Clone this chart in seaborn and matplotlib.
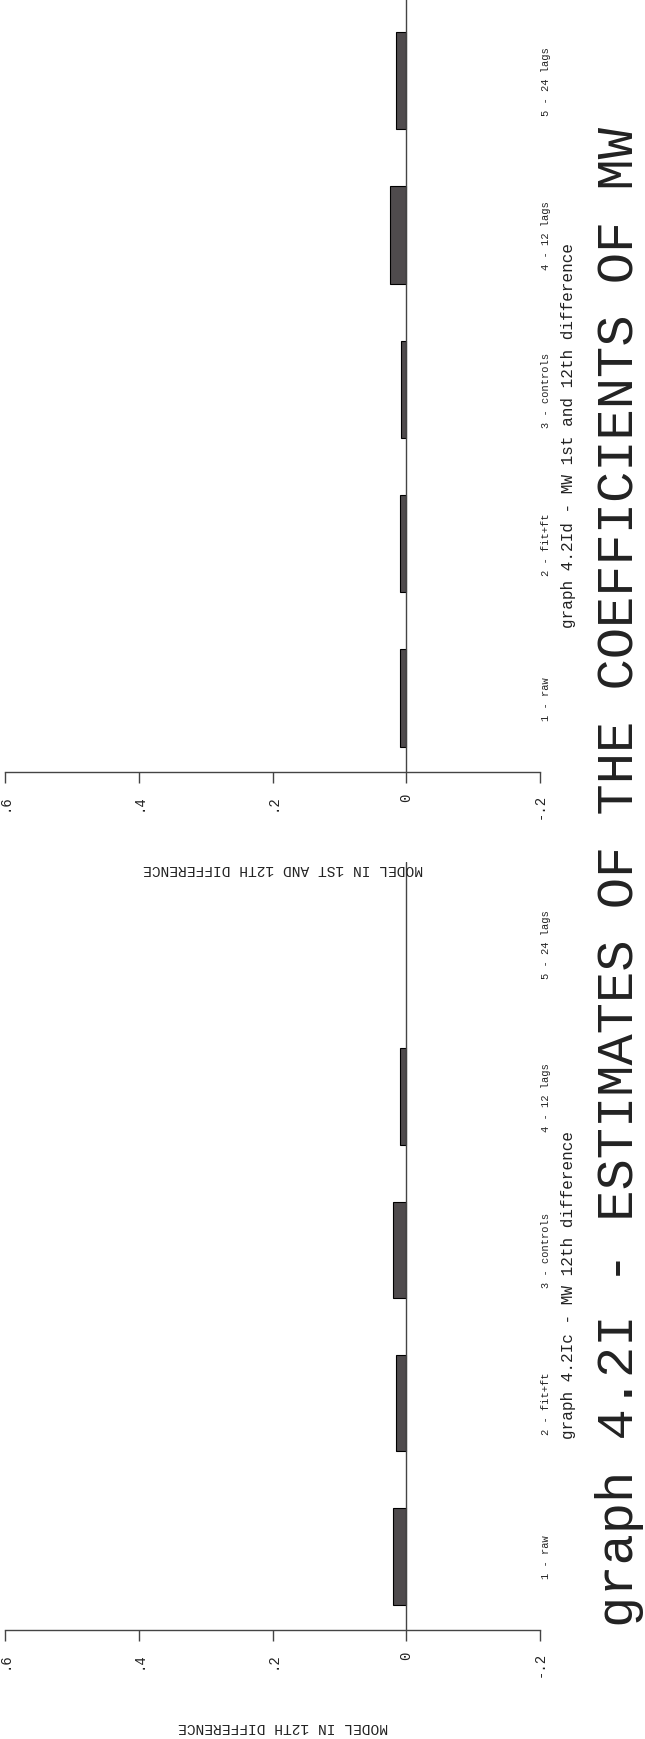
import numpy as np
import pandas as pd
import matplotlib
matplotlib.use("Agg")
import matplotlib.pyplot as plt
import seaborn as sns

# ---- data ----
categories = ["1 - raw", "2 - fit+ft", "3 - controls", "4 - 12 lags", "5 - 24 lags"]
coef_12th = [0.020, 0.015, 0.020, 0.010, np.nan]
coef_1st_12th = [0.009, 0.009, 0.008, 0.025, 0.015]
value_ticks = [0.6, 0.4, 0.2, 0.0, -0.2]
value_tick_labels = [".6", ".4", ".2", "0", "-.2"]
main_title = "graph 4.2I - ESTIMATES OF THE COEFFICIENTS OF MW"
panel_titles = ["graph 4.2Ic - MW 12th difference",
                "graph 4.2Id - MW 1st and 12th difference"]
value_labels = ["MODEL IN 12TH DIFFERENCE", "MODEL IN 1ST AND 12TH DIFFERENCE"]

sns.set_theme(style="white")
plt.rcParams["font.family"] = ["Liberation Mono", "DejaVu Sans"]

W, H = 645, 1740
fig = plt.figure(figsize=(W / 100, H / 100), dpi=100)

bar_color = "#4f4b4d"
line_color = "#444444"
text_color = "#222222"

panels = [
    # (values, top_px, bottom_px, value label, panel title, title centre y px)
    (coef_12th, 863, 1631, value_labels[0], panel_titles[0], 1285),
    (coef_1st_12th, 0, 773, value_labels[1], panel_titles[1], 435),
]

for vals, top_px, bot_px, vlabel, ptitle, ty in panels:
    left_px, right_px = 5, 540
    ax = fig.add_axes([left_px / W, 1 - bot_px / H,
                       (right_px - left_px) / W, (bot_px - top_px) / H])
    df = pd.DataFrame({"category": categories, "value": vals})
    sns.barplot(data=df, x="value", y="category", order=categories,
                orient="h", color=bar_color, saturation=1, width=0.63,
                edgecolor="black", linewidth=0.8, ax=ax, zorder=2)
    ax.axvline(0, color=line_color, lw=1, zorder=3)
    ax.set_xlim(0.6, -0.2)
    ax.set_ylim(-0.48, 4.53)
    sns.despine(ax=ax, left=True, top=True, right=True)
    ax.spines["bottom"].set_color(line_color)
    ax.spines["bottom"].set_linewidth(1)

    ax.set_xticks(value_ticks)
    ax.set_xticklabels(value_tick_labels)
    ax.tick_params(axis="x", bottom=True, direction="out", length=8, width=1,
                   color=line_color, pad=7, labelsize=10, labelrotation=90,
                   labelcolor=text_color)

    ax.yaxis.tick_right()
    ax.set_yticks(range(len(categories)))
    ax.set_yticklabels(categories)
    ax.tick_params(axis="y", left=False, right=False, labelleft=False,
                   labelright=True, length=0, pad=1, labelsize=7.5,
                   labelrotation=90, labelcolor=text_color)
    for t in ax.get_yticklabels():
        t.set_va("center")

    ax.set_ylabel("")
    ax.set_xlabel(vlabel, rotation=180, fontsize=10.5, color=text_color)
    ax.xaxis.set_label_coords((283 - left_px) / (right_px - left_px),
                              -89 / (bot_px - top_px))

    fig.text(569 / W, 1 - ty / H, ptitle, rotation=90, ha="center",
             va="center", fontsize=11.5, color=text_color)

fig.text(619 / W, 1 - 877 / H, main_title, rotation=90, ha="center",
         va="center", fontsize=37.5, color=text_color)

fig.savefig("out.png", dpi=100, facecolor="white")
